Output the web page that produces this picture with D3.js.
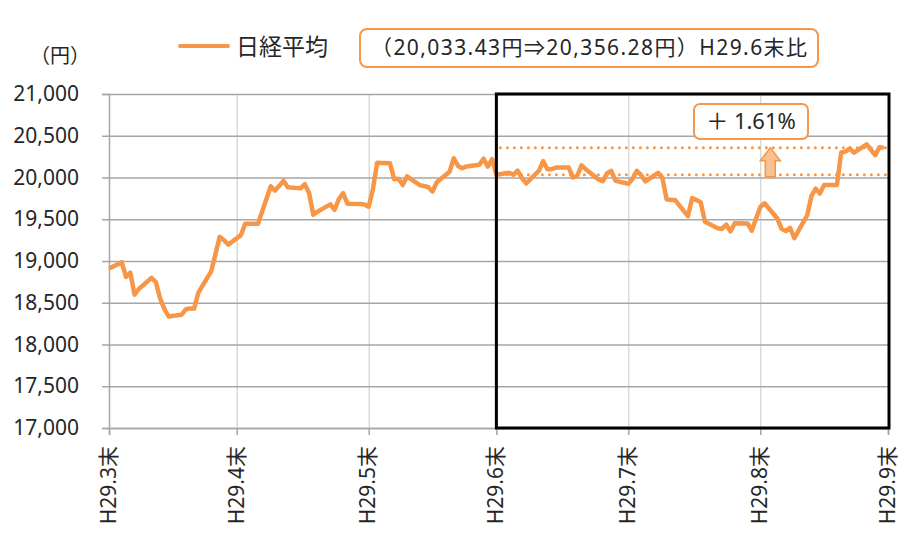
<!DOCTYPE html>
<html>
<head>
<meta charset="utf-8">
<script src="https://cdn.jsdelivr.net/npm/d3@7"></script>
<style>
  body { margin: 0; background: #fff; }
  svg text { font-family: "Noto Sans", "Noto Sans CJK JP", sans-serif; fill: #262626; }
</style>
</head>
<body>
<svg width="901" height="534"></svg>
<script>
// weekday closes of the Nikkei average (holidays carry the previous close, as in the source)
var dates = [
  '03-31',
  '04-03','04-04','04-05','04-06','04-07','04-10','04-11','04-12','04-13','04-14',
  '04-17','04-18','04-19','04-20','04-21','04-24','04-25','04-26','04-27','04-28',
  '05-01','05-02','05-03','05-04','05-05','05-08','05-09','05-10','05-11','05-12',
  '05-15','05-16','05-17','05-18','05-19','05-22','05-23','05-24','05-25','05-26',
  '05-29','05-30','05-31','06-01','06-02','06-05','06-06','06-07','06-08','06-09',
  '06-12','06-13','06-14','06-15','06-16','06-19','06-20','06-21','06-22','06-23',
  '06-26','06-27','06-28','06-29','06-30','07-03','07-04','07-05','07-06','07-07',
  '07-10','07-11','07-12','07-13','07-14','07-17','07-18','07-19','07-20','07-21',
  '07-24','07-25','07-26','07-27','07-28','07-31','08-01','08-02','08-03','08-04',
  '08-07','08-08','08-09','08-10','08-11','08-14','08-15','08-16','08-17','08-18',
  '08-21','08-22','08-23','08-24','08-25','08-28','08-29','08-30','08-31','09-01',
  '09-04','09-05','09-06','09-07','09-08','09-11','09-12','09-13','09-14','09-15',
  '09-18','09-19','09-20','09-21','09-22','09-25','09-26','09-27','09-28','09-29'
]
var nikkei = [
  18909.26,
  18983.23, 18810.25, 18861.27, 18597.06, 18664.63, 18797.88, 18747.87, 18552.61, 18426.84, 18335.63,
  18355.26, 18418.59, 18432.20, 18430.49, 18620.75, 18875.88, 19079.33, 19289.43, 19251.87, 19196.74,
  19310.52, 19445.70, 19445.70, 19445.70, 19445.70, 19895.70, 19843.00, 19900.09, 19961.55, 19883.90,
  19869.85, 19919.82, 19814.88, 19553.86, 19590.76, 19678.28, 19613.28, 19742.98, 19813.13, 19686.84,
  19682.57, 19677.85, 19650.57, 19860.03, 20177.28, 20170.82, 19979.90, 19984.62, 19909.26, 20013.26,
  19908.58, 19898.75, 19883.52, 19831.82, 19943.26, 20067.75, 20230.41, 20138.79, 20110.51, 20132.67,
  20153.35, 20225.09, 20130.41, 20220.30, 20033.43, 20055.80, 20032.35, 20081.63, 19994.06, 19929.09,
  20080.98, 20195.48, 20098.38, 20099.81, 20118.86, 20118.86, 19999.91, 20020.86, 20144.59, 20099.75,
  19975.67, 19955.20, 20050.16, 20079.64, 19959.84, 19925.18, 19985.79, 20080.04, 20029.26, 19952.33,
  20055.89, 19996.01, 19738.71, 19729.74, 19729.74, 19537.10, 19753.31, 19729.28, 19702.63, 19470.41,
  19393.13, 19383.84, 19434.64, 19353.77, 19452.61, 19449.90, 19362.55, 19506.54, 19646.24, 19691.47,
  19508.25, 19385.81, 19357.97, 19396.52, 19274.82, 19545.77, 19776.62, 19865.82, 19807.44, 19909.50,
  19909.50, 20299.38, 20310.46, 20347.48, 20296.45, 20397.58, 20330.19, 20267.05, 20363.11, 20356.28
]

var monthEnds = ['03-31','04-30','05-31','06-30','07-31','08-31','09-30']
var monthLabels = ['H29.3末','H29.4末','H29.5末','H29.6末','H29.7末','H29.8末','H29.9末']
var yTicks = [17000, 17500, 18000, 18500, 19000, 19500, 20000, 20500, 21000]

var baseValue = 20033.43   // H29.6末
var lastValue = 20356.28
var seriesName = '日経平均'
var legendNote = '（20,033.43円⇒20,356.28円）H29.6末比'
var changeLabel = '＋ 1.61%'
var yUnit = '（円）'

var parse = d3.timeParse('%Y-%m-%d')
var toDate = s => parse('2017-' + s)

var svg = d3.select('svg')
var orange = '#F79646'
// note: "top" is taken by window.top, hence the plot* names
var plotLeft = 109, plotRight = 888, plotTop = 94, plotBottom = 428

var x = d3.scaleTime()
          .domain([toDate(monthEnds[0]), toDate(monthEnds[monthEnds.length - 1])])
          .range([plotLeft, plotRight])
var y = d3.scaleLinear().domain([17000, 21000]).range([plotBottom, plotTop])

var points = dates.map((d, i) => ({ date: toDate(d), value: nikkei[i] }))
var tickDates = monthEnds.map(toDate)

// vertical grid
svg.append('g')
   .attr('transform', `translate(0,${plotBottom})`)
   .call(d3.axisBottom(x).tickValues(tickDates).tickSize(-(plotBottom - plotTop)).tickFormat(''))
   .call(g => g.select('.domain').remove())
   .selectAll('line').attr('stroke', '#C8C8C8').attr('stroke-width', 1)

// horizontal grid
svg.append('g')
   .attr('transform', `translate(${plotLeft},0)`)
   .call(d3.axisLeft(y).tickValues(yTicks).tickSize(-(plotRight - plotLeft)).tickFormat(''))
   .call(g => g.select('.domain').remove())
   .selectAll('line').attr('stroke', '#A6A6A6').attr('stroke-width', 1.5)

// y axis
var yAxis = svg.append('g')
   .attr('transform', `translate(${plotLeft},0)`)
   .call(d3.axisLeft(y).tickValues(yTicks).tickSize(7).tickPadding(23).tickFormat(d3.format(',')))
yAxis.select('.domain').attr('stroke', '#A6A6A6').attr('stroke-width', 1.5)
yAxis.selectAll('line').attr('stroke', '#A6A6A6').attr('stroke-width', 1.5)
yAxis.selectAll('text').attr('font-size', 21).attr('fill', '#262626')
     .style('font-family', '"Noto Sans", sans-serif')

// x axis
var xAxis = svg.append('g')
   .attr('transform', `translate(0,${plotBottom})`)
   .call(d3.axisBottom(x).tickValues(tickDates).tickSize(7)
           .tickFormat((d, i) => monthLabels[i]))
xAxis.select('.domain').attr('stroke', '#A6A6A6').attr('stroke-width', 1.5)
xAxis.selectAll('line').attr('stroke', '#A6A6A6').attr('stroke-width', 1.5)
xAxis.selectAll('text')
     .attr('font-size', 21)
     .attr('fill', '#000')
     .attr('text-anchor', 'end')
     .attr('transform', 'rotate(-90)')
     .attr('x', -18)
     .attr('y', 0)
     .attr('dy', '0.3em')

svg.append('text')
   .attr('x', 60).attr('y', 63)
   .attr('text-anchor', 'middle')
   .attr('font-size', 20)
   .text(yUnit)

// reference lines (H29.6末 and latest)
var refLeft = x(toDate('06-30')), refRight = plotRight
;[baseValue, lastValue].forEach(v => {
  svg.append('line')
     .attr('x1', refLeft + 4).attr('x2', refRight)
     .attr('y1', y(v)).attr('y2', y(v))
     .attr('stroke', orange)
     .attr('stroke-width', 3)
     .attr('stroke-linecap', 'round')
     .attr('stroke-dasharray', '0 7')
})

// the series
svg.append('path')
   .datum(points)
   .attr('fill', 'none')
   .attr('stroke', orange)
   .attr('stroke-width', 4.5)
   .attr('stroke-linejoin', 'round')
   .attr('d', d3.line().x(d => x(d.date)).y(d => y(d.value)))

// up arrow between the two reference lines
var ax = x(toDate('08-31')) + 10
var aTop = y(lastValue), aBot = y(baseValue)
svg.append('path')
   .attr('d', `M${ax},${aTop} L${ax + 10},${aTop + 13} L${ax + 5},${aTop + 13} L${ax + 5},${aBot + 2}
               L${ax - 5},${aBot + 2} L${ax - 5},${aTop + 13} L${ax - 10},${aTop + 13} Z`)
   .attr('fill', '#FAC090')
   .attr('stroke', orange)
   .attr('stroke-width', 1.5)

// +1.61% box
svg.append('rect')
   .attr('x', 694).attr('y', 104).attr('width', 114).attr('height', 35)
   .attr('rx', 6)
   .attr('fill', '#fff').attr('stroke', orange).attr('stroke-width', 2)
svg.append('text')
   .attr('x', 751).attr('y', 129)
   .attr('text-anchor', 'middle')
   .attr('font-size', 22)
   .text(changeLabel)

// black frame over the H29.6末 - H29.9末 period
svg.append('rect')
   .attr('x', refLeft).attr('y', plotTop)
   .attr('width', plotRight - refLeft + 1).attr('height', plotBottom - plotTop)
   .attr('fill', 'none').attr('stroke', '#000').attr('stroke-width', 3)

// legend
svg.append('line')
   .attr('x1', 180).attr('x2', 228).attr('y1', 46).attr('y2', 46)
   .attr('stroke', orange).attr('stroke-width', 4).attr('stroke-linecap', 'round')
svg.append('text')
   .attr('x', 236).attr('y', 55)
   .attr('font-size', 23)
   .text(seriesName)
svg.append('rect')
   .attr('x', 360).attr('y', 29).attr('width', 458).attr('height', 38)
   .attr('rx', 7)
   .attr('fill', '#fff').attr('stroke', orange).attr('stroke-width', 2)
svg.append('text')
   .attr('x', 589).attr('y', 55)
   .attr('text-anchor', 'middle')
   .attr('font-size', 21)
   .attr('textLength', 436)
   .text(legendNote)
</script>
</body>
</html>
